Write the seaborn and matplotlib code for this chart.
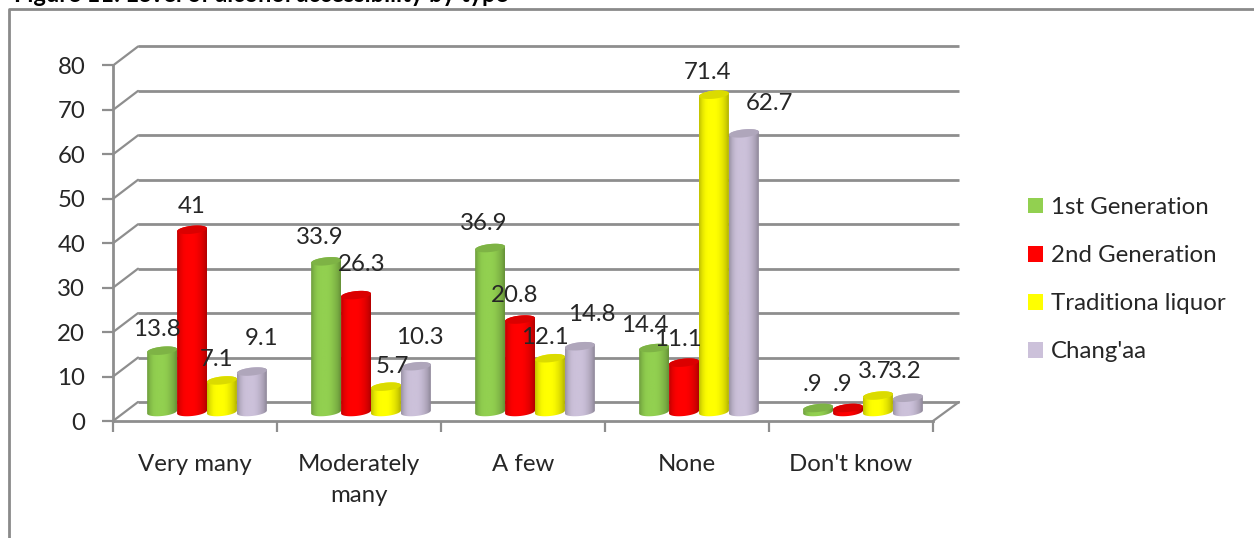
import numpy as np
import pandas as pd
import matplotlib
matplotlib.use("Agg")
import matplotlib.pyplot as plt
from matplotlib.patches import Polygon, Rectangle
import matplotlib.colors as mcolors
import seaborn as sns

# Responses per category, in percent
categories = ["Very many", "Moderately\nmany", "A few", "None", "Don't know"]
first_generation = [13.8, 33.9, 36.9, 14.4, 0.9]
second_generation = [41, 26.3, 20.8, 11.1, 0.9]
traditional_liquor = [7.1, 5.7, 12.1, 71.4, 3.7]
changaa = [9.1, 10.3, 14.8, 62.7, 3.2]
series_names = ["1st Generation", "2nd Generation", "Traditiona liquor", "Chang'aa"]
series_values = [first_generation, second_generation, traditional_liquor, changaa]
series_colors = ["#92D050", "#FF0000", "#FFFF00", "#CCC1DA"]
value_labels = [
    ["13.8", "33.9", "36.9", "14.4", ".9"],
    ["41", "26.3", "20.8", "11.1", ".9"],
    ["7.1", "5.7", "12.1", "71.4", "3.7"],
    ["9.1", "10.3", "14.8", "62.7", "3.2"],
]
# Hand-placed label offsets (pixels, from each column's top)
label_dx = [[-5, -6, -6, -9, -6], [0, 6, -5, -6, -6], [-5, 6, -5, -6, -3], [10, 4, 12, 26, -3]]
label_dy = [[21, 24, 25, 23, 24], [23, 31, 24, 23, 24], [21, 20, 21, 22, 24], [33, 29, 32, 30, 26]]

W, H = 1254, 538
GRAY = "#8E8E8E"
TEXT = "#262626"
FS = 17.3

sns.set_theme(style="white")
plt.rcParams["font.family"] = ["Lato", "DejaVu Sans"]

fig = plt.figure(figsize=(W / 100, H / 100), dpi=100, facecolor="white")


def axes_px(left, right, top, bottom, **kw):
    return fig.add_axes([left / W, 1 - bottom / H, (right - left) / W, (bottom - top) / H], **kw)


# Rear wall, floor-level front axes and the column layer share one scale, offset for depth
FRONT = (113, 933, 65.5, 421)
back = axes_px(FRONT[0] + 25, FRONT[1] + 26, FRONT[2] - 19, FRONT[3] - 19)
ax = axes_px(*FRONT)
bars = axes_px(FRONT[0] + 12, FRONT[1] + 12, FRONT[2] - 9, FRONT[3] - 9)

ticks = np.arange(0, 81, 10)
for a in (back, ax, bars):
    a.set_xlim(-0.5, 4.5)
    a.set_ylim(0, 80)
    a.patch.set_alpha(0)

back.set_axis_off()
back.hlines(ticks, -0.5, 4.5, color=GRAY, lw=2.0, clip_on=False)

# Connect the floor and wall lines along the left and right edges
for v in ticks:
    p0 = ax.transData.transform((-0.5, v))
    p1 = back.transData.transform((-0.5, v))
    fig.add_artist(plt.Line2D([p0[0], p1[0]], [p0[1], p1[1]], color=GRAY, lw=1.6, transform=None))
p0 = ax.transData.transform((4.5, 0))
p1 = back.transData.transform((4.5, 0))
fig.add_artist(plt.Line2D([p0[0], p1[0]], [p0[1], p1[1]], color=GRAY, lw=1.6, transform=None))

sns.despine(ax=ax, top=True, right=True)
for s in ("left", "bottom"):
    ax.spines[s].set_color(GRAY)
    ax.spines[s].set_linewidth(2.0)
ax.set_yticks(ticks)
ax.set_xticks(range(5))
ax.set_xticklabels(categories, fontsize=FS, color=TEXT, linespacing=1.54)
ax.set_xticks(np.arange(-0.5, 5), minor=True)
ax.tick_params(axis="x", which="major", length=0, pad=24)
ax.tick_params(axis="x", which="minor", length=8, width=1.6, color=GRAY, bottom=True)
ax.tick_params(axis="y", length=8, width=1.6, color=GRAY, labelsize=FS, labelcolor=TEXT, pad=12, left=True)
ax.set_xlabel("")

# Columns
frame = pd.DataFrame(
    {
        "category": np.tile(categories, len(series_names)),
        "series": np.repeat(series_names, len(categories)),
        "value": np.concatenate(series_values),
    }
)
sns.barplot(
    data=frame, x="category", y="value", hue="series", hue_order=series_names,
    palette=series_colors, width=0.73, gap=0, saturation=1, errorbar=None,
    ax=bars, legend=False, order=categories,
)
bars.set_axis_off()

PX_PER_UNIT = (FRONT[3] - FRONT[2]) / 80
CAP_H = 8.0 / PX_PER_UNIT            # cap height in value units
CAP_RISE = 3.0 / PX_PER_UNIT         # rise of the cap from left to right edge
SHADE = np.array([0.76, 0.90, 0.98, 1.0, 1.0, 1.0, 0.97, 0.91, 0.83, 0.70])


def shade_img(color):
    rgb = np.array(mcolors.to_rgb(color))
    xs = np.linspace(0, 1, 64)
    s = np.interp(xs, np.linspace(0, 1, len(SHADE)), SHADE)
    return (rgb[None, None, :] * s[None, :, None]).clip(0, 1)


def ellipse_points(x, w, level, start, stop):
    t = np.linspace(start, stop, 40)
    xs = x + w / 2 + w / 2 * np.cos(t)
    ys = level + CAP_H / 2 * np.sin(t) + CAP_RISE * (xs - x - w / 2) / w
    return np.column_stack([xs, ys])


for s, container in enumerate(bars.containers):
    color = series_colors[s]
    for c, rect in enumerate(container):
        x, w, h = rect.get_x(), rect.get_width(), rect.get_height()
        rect.set_clip_on(False)
        rect.set_linewidth(0)
        rect.set_alpha(0)
        z = 3 + s * 0.1
        outline = np.vstack([
            ellipse_points(x, w, 0, np.pi, 2 * np.pi),
            ellipse_points(x, w, h, 0, np.pi),
        ])
        body = Polygon(outline, closed=True, fc="none", ec="none", transform=bars.transData)
        bars.add_patch(body)
        img = bars.imshow(shade_img(color), extent=(x, x + w, -2 * CAP_H, h + 2 * CAP_H),
                          aspect="auto", zorder=z, interpolation="bilinear")
        img.set_clip_box(fig.bbox)
        img.set_clip_path(body)
        cap_color = np.array(mcolors.to_rgb(color)) * 0.86
        cap = Polygon(ellipse_points(x, w, h, 0, 2 * np.pi), closed=True, fc=cap_color, ec="none",
                      zorder=z + 0.05, clip_on=False)
        bars.add_patch(cap)
        bars.annotate(
            value_labels[s][c], (x + w / 2, h),
            xytext=(label_dx[s][c], label_dy[s][c]), textcoords="offset pixels",
            ha="center", va="center", fontsize=FS, color=TEXT, zorder=10, annotation_clip=False,
        )
bars.set_xlim(-0.5, 4.5)
bars.set_ylim(0, 80)

# Legend
handles = [Rectangle((0, 0), 1, 1, fc=c, ec="none") for c in series_colors]
fig.legend(
    handles, series_names, loc="upper left", bbox_to_anchor=(1028 / W, 1 - 197 / H),
    frameon=False, fontsize=FS, handlelength=0.63, handleheight=0.63, handletextpad=0.33,
    labelspacing=1.13, labelcolor=TEXT, borderpad=0, borderaxespad=0,
)

# Outer frame, running off the top-right and bottom of the canvas
fig.add_artist(plt.Line2D([9 / W, 9 / W, 1], [0, 1 - 9 / H, 1 - 9 / H], color="#8A8A8A", lw=2.0,
                          transform=fig.transFigure))

# Heading, cut by the top edge
fig.text(14 / W, 1 + 17 / H, "Figure 11: Level of alcohol accessibility by type", fontsize=17,
         fontweight="bold", color="black", ha="left", va="top")

fig.savefig("out.png", dpi=100, facecolor="white")
